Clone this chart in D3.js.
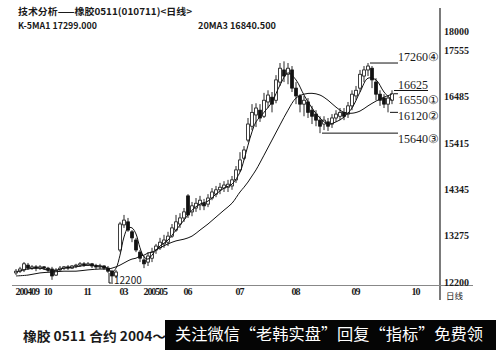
<!DOCTYPE html>
<html>
<head>
<meta charset="utf-8">
<title>橡胶0511 日线</title>
<script src="https://cdn.jsdelivr.net/npm/d3@7"></script>
<style>
  body { margin:0; background:white; }
  svg { display:block; }
  .serif { font-family:"Liberation Serif", "DejaVu Serif", serif; fill:#1a1a1a; }
  .cjk { font-family:"Noto Sans CJK SC", sans-serif; fill:#1a1a1a; }
</style>
</head>
<body>
<div id="chart"></div>
<script>
// daily candles, one per trading day shown
var opens = [
  12410,12450,12480,12590,12520,12550,12520,12550,12520,12500,
  12360,12480,12520,12550,12520,12570,12590,12620,12590,12620,
  12570,12550,12570,12520,12450,12340,12940,13520,13590,13360,
  13170,12890,12710,12660,12750,12940,12990,13080,13120,13260,
  13400,13540,13680,14190,13820,13910,13980,14020,14000,14140,
  14230,14330,14370,14390,14420,14560,14790,15060,15480,15800,
  16060,16170,16030,16360,16470,16400,16820,17100,17000,17100,
  16680,16500,16310,16360,16170,16080,15940,15850,15900,15850,
  15990,16030,16120,16080,16270,16500,16680,16960,17100,17140,
  16820,16540,16450,16310,16400];
var closes = [
  12450,12500,12620,12520,12550,12520,12550,12520,12480,12340,
  12480,12520,12550,12520,12570,12590,12620,12590,12620,12570,
  12550,12570,12520,12450,12340,12430,13540,13630,13400,13220,
  12940,12750,12620,12800,12890,13030,13120,13170,13260,13450,
  13590,13680,13820,13750,13960,14020,14090,13960,14140,14280,
  14330,14390,14440,14460,14560,14790,15020,15250,15850,16120,
  16220,15990,16400,16520,16310,16870,17140,16960,17140,16680,
  16500,16310,16400,16120,16030,15940,15800,15940,15800,15990,
  16080,16120,16030,16270,16540,16630,17000,17100,17190,16870,
  16540,16400,16310,16450,16550];
var highs = [
  12500,12550,12660,12640,12590,12590,12590,12570,12550,12550,
  12520,12570,12570,12590,12590,12620,12660,12660,12660,12640,
  12620,12620,12590,12570,12480,12480,13590,13750,13680,13400,
  13220,12940,12800,12890,12990,13080,13220,13290,13360,13540,
  13750,13790,13910,14230,14050,14140,14190,14120,14230,14370,
  14420,14490,14530,14560,14650,14880,15200,15340,15990,16310,
  16330,16310,16570,16630,16590,16980,17260,17299,17260,17190,
  16820,16540,16500,16450,16270,16170,16030,16030,15990,16080,
  16170,16220,16220,16360,16630,16730,17100,17190,17260,17190,
  16910,16630,16540,16500,16630];
var lows = [
  12360,12410,12430,12480,12480,12450,12480,12480,12430,12250,
  12340,12450,12480,12480,12500,12520,12550,12550,12570,12520,
  12500,12500,12480,12410,12200,12290,12890,13450,13360,13120,
  12890,12660,12520,12570,12660,12850,12940,12990,13030,13220,
  13360,13450,13590,13680,13720,13820,13860,13860,13930,14090,
  14160,14230,14280,14280,14330,14490,14740,15020,15430,15710,
  15780,15900,15990,16220,16120,16330,16730,16820,16770,16590,
  16310,16120,16030,15990,15850,15800,15640,15710,15690,15760,
  15900,15940,15940,15990,16170,16400,16590,16820,16960,16680,
  16400,16270,16220,16120,16310];

// moving average lines, sampled at these candle positions
var maIdx = [0,3,6,9,12,15,18,21,23,24,25,26,27,28,29,30,31,32,33,34,35,36,
  38,40,42,44,46,48,50,52,54,56,57,58,59,60,
  62,64,66,68,70,72,74,76,78,80,82,84,86,88,90,92,94];
var ma5 = [12430,12500,12520,12450,12520,12550,12590,12570,
  12520,12430,12520,12820,13240,13450,13450,13310,12990,12780,12730,12820,12940,13030,
  13170,13400,13630,13860,14000,14070,14230,14370,14460,14740,
  15020,15360,15670,15900,
  16120,16360,16750,17030,16870,16520,16220,15990,15850,15900,16010,16220,16590,16910,16870,16590,16400];
var ma20 = [12340,12360,12410,12430,12450,12450,12480,12500,
  12500,12520,12550,12590,12640,12690,12730,12750,12800,12820,12870,12890,12940,12990,
  13080,13150,13190,13260,13400,13540,13700,13860,14020,14280,
  14390,14510,14650,14790,
  15130,15480,15830,16170,16450,16540,16560,16520,16400,16240,16120,16100,16150,16270,16380,16470,16540];

var xTickIdx = [0,7,17,26,32,42,55,69,84,99];
var xTickLabels = ["200409","10","11","03","200505","06","07","08","09","10"];
var yTicks = [12200,13275,14345,15415,16485,17555,18000];

// price notes on the right
var noteValues = [17260,16625,16550,16120,15640];
var noteLabels = ["17260④","16625","16550①","16120②","15640③"];
var noteFrom = [88,94,94,93,76];
var noteDy = [-2,-2,10,8,10];

var w = 496, h = 350;
var svg = d3.select('#chart').append('svg')
  .attr('width', w)
  .attr('height', h);

var x = d3.scaleLinear().domain([0, 106]).range([16, 440]);
var y = d3.scaleLinear().domain([12200, 18000]).range([282, 31]);

// header
svg.append('text').attr('class','cjk')
  .attr('x', 18).attr('y', 14.5)
  .attr('font-size', 9.5).attr('font-weight', 'bold')
  .attr('textLength', 174).attr('lengthAdjust', 'spacingAndGlyphs')
  .text('技术分析——橡胶0511(010711)<日线>');
svg.append('text').attr('class','cjk')
  .attr('x', 18).attr('y', 28.5)
  .attr('font-size', 9).attr('font-weight', 'bold')
  .attr('textLength', 79).attr('lengthAdjust', 'spacingAndGlyphs')
  .text('K-5MA1 17299.000');
svg.append('text').attr('class','cjk')
  .attr('x', 198).attr('y', 28.5)
  .attr('font-size', 9).attr('font-weight', 'bold')
  .attr('textLength', 78).attr('lengthAdjust', 'spacingAndGlyphs')
  .text('20MA3 16840.500');

// frame lines
svg.append('line')
  .attr('x1', 440).attr('x2', 440).attr('y1', 8).attr('y2', 300)
  .attr('stroke', '#222').attr('stroke-width', 1.2);
svg.append('line')
  .attr('x1', 12).attr('x2', 473).attr('y1', 285.5).attr('y2', 285.5)
  .attr('stroke', '#888').attr('stroke-width', 1);

// y axis labels
var yAxis = svg.append('g')
  .attr('transform', 'translate(440,0)')
  .call(d3.axisRight(y).tickValues(yTicks).tickSize(0).tickPadding(4).tickFormat(d3.format('d')));
yAxis.select('.domain').remove();
yAxis.selectAll('text')
  .attr('class', 'serif')
  .attr('font-size', 10)
  .attr('font-weight', 'bold');
yAxis.attr('font-family', null).attr('font-size', null);

// x axis labels
var xAxis = svg.append('g')
  .attr('transform', 'translate(0,285)')
  .call(d3.axisBottom(x).tickValues(xTickIdx).tickSize(0).tickPadding(3)
    .tickFormat(function(d, i) { return xTickLabels[i]; }));
xAxis.select('.domain').remove();
xAxis.selectAll('text')
  .attr('class', 'serif')
  .attr('text-anchor', 'start')
  .attr('dx', -1)
  .attr('font-size', 10)
  .attr('font-weight', 'bold')
  .attr('letter-spacing', -1.1);
xAxis.attr('font-family', null).attr('font-size', null);

svg.append('text').attr('class','cjk')
  .attr('x', 446).attr('y', 299)
  .attr('font-size', 8.5)
  .text('日线');

// candles
var idx = d3.range(opens.length);
svg.append('g').selectAll('line')
  .data(idx)
  .enter().append('line')
    .attr('x1', function(i) { return x(i); })
    .attr('x2', function(i) { return x(i); })
    .attr('y1', function(i) { return y(highs[i]); })
    .attr('y2', function(i) { return y(lows[i]); })
    .attr('stroke', '#111').attr('stroke-width', 0.9);
svg.append('g').selectAll('rect')
  .data(idx)
  .enter().append('rect')
    .attr('x', function(i) { return x(i) - 1.4; })
    .attr('width', 2.8)
    .attr('y', function(i) { return y(Math.max(opens[i], closes[i])); })
    .attr('height', function(i) { return Math.max(1, Math.abs(y(opens[i]) - y(closes[i]))); })
    .attr('fill', function(i) { return closes[i] > opens[i] ? 'white' : '#111'; })
    .attr('stroke', '#111').attr('stroke-width', 0.8);

// moving averages
var maLine = d3.line()
  .x(function(d) { return x(d[0]); })
  .y(function(d) { return y(d[1]); })
  .curve(d3.curveCatmullRom);
[ma5, ma20].forEach(function(ma) {
  svg.append('path')
    .attr('d', maLine(maIdx.map(function(k, j) { return [k, ma[j]]; })))
    .attr('fill', 'none')
    .attr('stroke', '#111')
    .attr('stroke-width', 1);
});

// low mark 12200
var lowI = lows.indexOf(12200);
svg.append('path')
  .attr('d', 'M' + (x(lowI) - 3) + ',' + (y(12200) - 9) + 'V' + (y(12200) + 1) + 'H' + (x(lowI) + 1))
  .attr('fill', 'none').attr('stroke', '#111').attr('stroke-width', 1);
svg.append('text').attr('class','cjk')
  .attr('x', x(lowI) + 2).attr('y', y(12200) + 2)
  .attr('font-size', 10)
  .text('12200');

// price notes
noteValues.forEach(function(v, k) {
  svg.append('line')
    .attr('x1', x(noteFrom[k]) + 2).attr('x2', k == 1 ? 428 : 398)
    .attr('y1', y(v)).attr('y2', y(v))
    .attr('stroke', '#111').attr('stroke-width', 1);
  svg.append('text').attr('class', 'serif')
    .attr('x', 398).attr('y', y(v) + noteDy[k])
    .attr('font-size', 12)
    .text(noteLabels[k]);
});

// caption + banner
svg.append('text').attr('class','cjk')
  .attr('x', 23).attr('y', 341)
  .attr('font-size', 13).attr('font-weight', 'bold')
  .attr('textLength', 143).attr('lengthAdjust', 'spacingAndGlyphs')
  .text('橡胶 0511 合约 2004～');
svg.append('rect')
  .attr('x', 165).attr('y', 320).attr('width', 331).attr('height', 30)
  .attr('fill', '#050505');
svg.append('text')
  .attr('x', 175).attr('y', 340)
  .attr('font-family', '"Noto Sans CJK SC", sans-serif')
  .attr('font-size', 16)
  .attr('fill', 'white')
  .attr('textLength', 308).attr('lengthAdjust', 'spacingAndGlyphs')
  .text('关注微信“老韩实盘”回复“指标”免费领');
</script>
</body>
</html>
